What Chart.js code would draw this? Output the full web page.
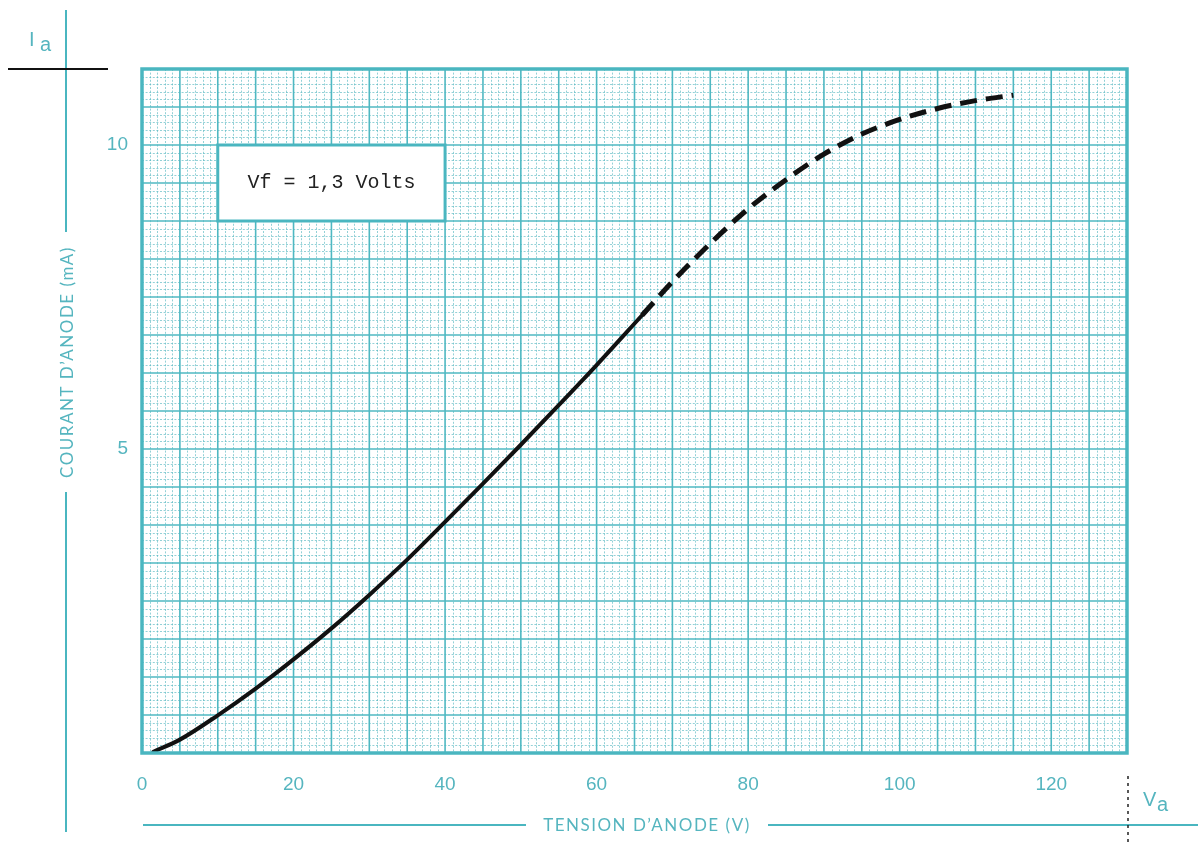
<!DOCTYPE html>
<html>
<head>
<meta charset="utf-8">
<script src="https://cdn.jsdelivr.net/npm/chart.js@4.4.1/dist/chart.umd.min.js"></script>
<style>
  html, body { margin: 0; padding: 0; background: #ffffff; }
  #wrap { width: 1198px; height: 842px; position: relative; }
</style>
</head>
<body>
<div id="wrap"><canvas id="c" width="1198" height="842"></canvas></div>
<script>
// ---- data ----
const xTickValues = [0, 20, 40, 60, 80, 100, 120];
const yTickValues = [5, 10];
// solid part of the curve (measured)
const vSolid = [1.5, 5, 10, 15, 20, 25, 30, 35, 40, 45, 50, 55, 60, 66];
const iSolid = [0.02, 0.22, 0.62, 1.06, 1.54, 2.05, 2.6, 3.18, 3.8, 4.43, 5.07, 5.72, 6.38, 7.2];
// dashed (extrapolated) part of the curve
const vDashed = [66, 70, 75, 80, 85, 90, 95, 100, 105, 110, 115];
const iDashed = [7.2, 7.75, 8.38, 8.95, 9.43, 9.85, 10.18, 10.42, 10.6, 10.73, 10.82];
const xAxisTitle = "TENSION D\u2019ANODE (V)";
const yAxisTitle = "COURANT D\u2019ANODE (mA)";
const noteText = "Vf = 1,3 Volts";

const TEAL = '#4ab6c0';
const TEAL_TXT = '#55b5bf';

const paperPlugin = {
  id: 'paper',
  beforeDatasetsDraw(chart) {
    const ctx = chart.ctx, xs = chart.scales.x, ys = chart.scales.y, a = chart.chartArea;
    ctx.save();
    // minor grid
    ctx.lineWidth = 1;
    ctx.strokeStyle = 'rgba(75,178,188,0.6)';
    ctx.setLineDash([2, 1.6]);
    for (let v = 0; v <= 130; v += 1) {
      if (v % 5 === 0) continue;
      const px = Math.round(xs.getPixelForValue(v)) + 0.5;
      ctx.beginPath(); ctx.moveTo(px, a.top); ctx.lineTo(px, a.bottom); ctx.stroke();
    }
    for (let k = 0; k <= 90; k++) {
      if (k % 5 === 0) continue;
      const py = Math.round(ys.getPixelForValue(k * 0.125)) + 0.5;
      ctx.beginPath(); ctx.moveTo(a.left, py); ctx.lineTo(a.right, py); ctx.stroke();
    }
    // major grid
    ctx.setLineDash([]);
    ctx.strokeStyle = '#4fb8c2';
    ctx.lineWidth = 1.6;
    for (let v = 0; v <= 130; v += 5) {
      const px = xs.getPixelForValue(v);
      ctx.beginPath(); ctx.moveTo(px, a.top); ctx.lineTo(px, a.bottom); ctx.stroke();
    }
    for (let k = 0; k <= 90; k += 5) {
      const py = ys.getPixelForValue(k * 0.125);
      ctx.beginPath(); ctx.moveTo(a.left, py); ctx.lineTo(a.right, py); ctx.stroke();
    }
    // note box
    const bx1 = xs.getPixelForValue(10), bx2 = xs.getPixelForValue(40);
    const by1 = ys.getPixelForValue(10), by2 = ys.getPixelForValue(8.75);
    ctx.fillStyle = '#ffffff';
    ctx.fillRect(bx1, by1, bx2 - bx1, by2 - by1);
    ctx.strokeStyle = TEAL; ctx.lineWidth = 3;
    ctx.strokeRect(bx1, by1, bx2 - bx1, by2 - by1);
    ctx.fillStyle = '#222';
    ctx.font = '20px "Liberation Mono", "DejaVu Sans Mono", monospace';
    ctx.textAlign = 'center'; ctx.textBaseline = 'middle';
    ctx.fillText(noteText, (bx1 + bx2) / 2, (by1 + by2) / 2);
    ctx.restore();
  },
  afterDatasetsDraw(chart) {
    const ctx = chart.ctx, a = chart.chartArea;
    ctx.save();
    ctx.strokeStyle = TEAL; ctx.lineWidth = 3.5;
    ctx.strokeRect(a.left, a.top, a.right - a.left, a.bottom - a.top);
    ctx.restore();
  },
  afterDraw(chart) {
    const ctx = chart.ctx;
    ctx.save();
    // left vertical axis line with title
    ctx.strokeStyle = TEAL; ctx.lineWidth = 2;
    ctx.beginPath(); ctx.moveTo(66, 10); ctx.lineTo(66, 232); ctx.stroke();
    ctx.beginPath(); ctx.moveTo(66, 492); ctx.lineTo(66, 832); ctx.stroke();
    ctx.save();
    ctx.translate(68, 362);
    ctx.rotate(-Math.PI / 2);
    ctx.fillStyle = TEAL_TXT;
    ctx.font = '17px Lato, "Open Sans", sans-serif';
    ctx.letterSpacing = '1.5px';
    ctx.textAlign = 'center'; ctx.textBaseline = 'middle';
    ctx.fillText(yAxisTitle, 0, 0);
    ctx.restore();
    // black tick at top-left
    ctx.strokeStyle = '#111'; ctx.lineWidth = 2;
    ctx.beginPath(); ctx.moveTo(8, 69); ctx.lineTo(108, 69); ctx.stroke();
    // I a
    ctx.fillStyle = TEAL_TXT;
    ctx.font = '20px "Liberation Sans", sans-serif';
    ctx.textAlign = 'left'; ctx.textBaseline = 'alphabetic';
    ctx.fillText('I', 29, 46);
    ctx.fillText('a', 40, 51);
    // bottom horizontal line with title
    ctx.strokeStyle = TEAL; ctx.lineWidth = 2;
    ctx.beginPath(); ctx.moveTo(143, 825); ctx.lineTo(526, 825); ctx.stroke();
    ctx.beginPath(); ctx.moveTo(768, 825); ctx.lineTo(1198, 825); ctx.stroke();
    ctx.fillStyle = TEAL_TXT;
    ctx.font = '17px Lato, "Open Sans", sans-serif';
    ctx.letterSpacing = '1.5px';
    ctx.textAlign = 'center'; ctx.textBaseline = 'middle';
    ctx.fillText(xAxisTitle, 647, 826);
    ctx.letterSpacing = '0px';
    // V a
    ctx.font = '20px "Liberation Sans", sans-serif';
    ctx.textAlign = 'left'; ctx.textBaseline = 'alphabetic';
    ctx.fillText('V', 1143, 806);
    ctx.fillText('a', 1157, 811);
    // dotted black vertical marker
    ctx.strokeStyle = '#222'; ctx.lineWidth = 1.5;
    ctx.setLineDash([3, 4]);
    ctx.beginPath(); ctx.moveTo(1128, 776); ctx.lineTo(1128, 842); ctx.stroke();
    ctx.restore();
  }
};

const toPts = (xs, ys) => xs.map((v, i) => ({ x: v, y: ys[i] }));

new Chart(document.getElementById('c'), {
  type: 'line',
  data: {
    datasets: [
      {
        data: toPts(vSolid, iSolid),
        borderColor: '#111', borderWidth: 4, pointRadius: 0,
        cubicInterpolationMode: 'monotone', borderCapStyle: 'round', fill: false
      },
      {
        data: toPts(vDashed, iDashed),
        borderColor: '#111', borderWidth: 5, pointRadius: 0, borderDash: [17, 9],
        cubicInterpolationMode: 'monotone', fill: false
      }
    ]
  },
  options: {
    responsive: false,
    animation: false,
    devicePixelRatio: 1,
    layout: { padding: { left: 0, top: 69, right: 71, bottom: 0 } },
    plugins: { legend: { display: false }, tooltip: { enabled: false } },
    scales: {
      x: {
        type: 'linear', min: 0, max: 130,
        grid: { display: false, drawTicks: false },
        border: { display: false },
        afterBuildTicks: s => { s.ticks = xTickValues.map(v => ({ value: v })); },
        afterFit: s => { s.height = 89; },
        ticks: {
          padding: 20, maxRotation: 0, autoSkip: false,
          color: TEAL_TXT, font: { family: '"Liberation Sans", sans-serif', size: 19 }
        }
      },
      y: {
        type: 'linear', min: 0, max: 11.25,
        grid: { display: false, drawTicks: false },
        border: { display: false },
        afterBuildTicks: s => { s.ticks = yTickValues.map(v => ({ value: v })); },
        afterFit: s => { s.width = 142; },
        ticks: {
          padding: 14, autoSkip: false,
          color: TEAL_TXT, font: { family: '"Liberation Sans", sans-serif', size: 19 }
        }
      }
    }
  },
  plugins: [paperPlugin]
});
</script>
</body>
</html>
